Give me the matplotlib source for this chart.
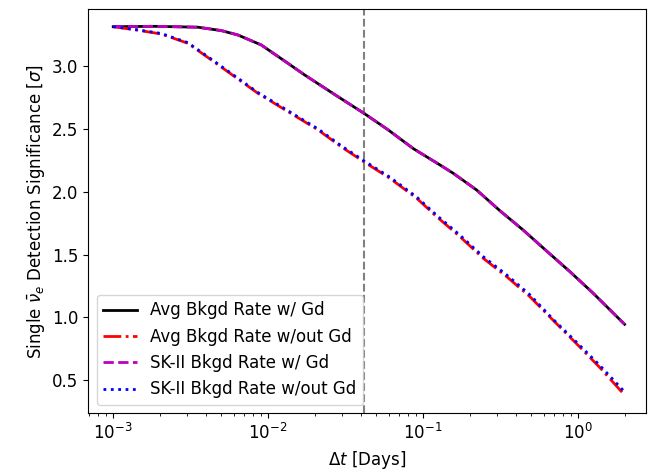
import matplotlib
matplotlib.use('Agg')
import matplotlib.pyplot as plt
import numpy as np

plt.rcParams['font.size'] = 12

# time window in days
t_gd = [0.001, 0.00185, 0.00352, 0.00498, 0.00638, 0.00904, 0.01343, 0.01722,
        0.02825, 0.0415, 0.0596, 0.0865, 0.1285, 0.1567, 0.2218, 0.3133,
        0.4436, 0.6281, 0.8872, 1.256, 2.0]
avg_gd = [3.317, 3.32, 3.313, 3.286, 3.251, 3.171, 3.025, 2.932,
          2.759, 2.627, 2.494, 2.345, 2.215, 2.148, 2.015, 1.85,
          1.695, 1.528, 1.364, 1.191, 0.944]
sk2_gd = [3.317, 3.32, 3.313, 3.286, 3.251, 3.171, 3.025, 2.932,
          2.759, 2.627, 2.494, 2.345, 2.215, 2.148, 2.015, 1.85,
          1.695, 1.528, 1.364, 1.191, 0.944]

t_nogd = [0.001, 0.00144, 0.00204, 0.00303, 0.0043, 0.00608, 0.00859, 0.01343,
          0.021, 0.0296, 0.0415, 0.0611, 0.091, 0.1225, 0.173, 0.2449,
          0.3467, 0.4898, 0.6934, 0.9817, 1.387, 2.0]
avg_nogd = [3.317, 3.289, 3.259, 3.185, 3.052, 2.919, 2.786, 2.64,
            2.494, 2.36, 2.24, 2.108, 1.949, 1.802, 1.643, 1.47,
            1.324, 1.164, 0.975, 0.788, 0.598, 0.38]
sk2_nogd = [3.317, 3.292, 3.263, 3.19, 3.058, 2.925, 2.792, 2.647,
            2.502, 2.368, 2.249, 2.117, 1.959, 1.813, 1.655, 1.483,
            1.338, 1.179, 0.982, 0.8, 0.615, 0.405]

one_hour = 1 / 24

fig = plt.figure(figsize=(6.5, 4.75), dpi=100)
ax = fig.add_axes([0.1358, 0.1295, 0.858, 0.851])

ax.axvline(one_hour, color='gray', ls='--', lw=1.5)
ax.plot(t_gd, avg_gd, 'k-', lw=2, label='Avg Bkgd Rate w/ Gd')
ax.plot(t_nogd, avg_nogd, 'r-.', lw=2, label='Avg Bkgd Rate w/out Gd')
ax.plot(t_gd, sk2_gd, 'm--', lw=2, label='SK-II Bkgd Rate w/ Gd')
ax.plot(t_nogd, sk2_nogd, 'b:', lw=2, label='SK-II Bkgd Rate w/out Gd')

ax.set_xscale('log')
ax.set_xlim(10 ** -3.161, 10 ** 0.439)
ax.set_ylim(0.233, 3.456)
ax.set_xlabel(r'$\Delta t$ [Days]')
ax.set_ylabel(r'Single $\bar{\nu}_e$ Detection Significance [$\sigma$]')
ax.legend(loc='lower left')

fig.savefig('out.png', dpi=100)
